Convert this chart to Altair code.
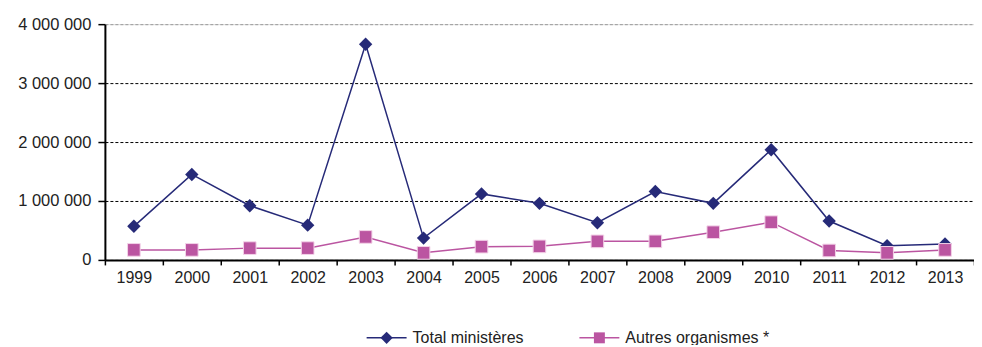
import altair as alt
import pandas as pd

years = [str(y) for y in range(1999, 2014)]
total_ministeres = [570000, 1450000, 920000, 590000, 3660000, 370000, 1120000, 960000,
                    630000, 1160000, 960000, 1870000, 660000, 240000, 270000]
autres_organismes = [170000, 170000, 200000, 200000, 390000, 120000, 225000, 230000,
                     315000, 315000, 470000, 640000, 160000, 120000, 170000]
series_names = ["Total ministères", "Autres organismes *"]
series_colors = ["#262a78", "#bb55a1"]
series_shapes = ["diamond", "square"]
y_ticks = [0, 1000000, 2000000, 3000000, 4000000]

rows = []
for name, vals in zip(series_names, [total_ministeres, autres_organismes]):
    for yr, v in zip(years, vals):
        rows.append({"year": yr, "value": v, "series": name})
df = pd.DataFrame(rows)

xenc = alt.X("year:O", scale=alt.Scale(type="band", paddingInner=0, paddingOuter=0),
             axis=alt.Axis(title=None, tickBand="extent", labelAngle=0, domainColor="black",
                           domainWidth=2, tickColor="black", tickWidth=1.5, tickSize=5,
                           labelFontSize=16, labelColor="#222", labelPadding=5,
                           labelFont="Liberation Sans", grid=False))
yenc = alt.Y("value:Q", scale=alt.Scale(domain=[0, 4000000], nice=False),
             axis=alt.Axis(title=None, values=y_ticks,
                           labelExpr="replace(replace(format(datum.value, ','), ',', ' '), ',', ' ')",
                           domainColor="black", domainWidth=2, tickColor="black", tickWidth=1.5,
                           tickSize=7, labelFontSize=16.5, labelColor="#222", labelPadding=7,
                           labelFont="Liberation Sans",
                           grid=True,
                           gridColor={"condition": {"test": "datum.value === 4000000", "value": "#999"}, "value": "black"},
                           gridDash=[3, 2], gridWidth=1))

lines = alt.Chart(df).mark_line(strokeWidth=1.5).encode(
    x=xenc, y=yenc,
    color=alt.Color("series:N", scale=alt.Scale(domain=series_names, range=series_colors),
                    sort=series_names, legend=None)
)

diamonds = alt.Chart(df[df.series == series_names[0]]).mark_point(
    shape="diamond", filled=True, size=180, opacity=1, color=series_colors[0]
).encode(x=xenc, y=yenc)

squares = alt.Chart(df[df.series == series_names[1]]).mark_point(
    shape="square", filled=True, size=160, opacity=1, color=series_colors[1],
    stroke="#f3d3e8", strokeWidth=1
).encode(x=xenc, y=yenc)

# Manual legend below the axis (positions relative to plot area)
legend_y = 314
legend_starts = [262, 475]
legend_layers = []
for name, col, shp, x0 in zip(series_names, series_colors, series_shapes, legend_starts):
    ldf = pd.DataFrame({"label": [name]})
    base = alt.Chart(ldf)
    legend_layers.append(base.mark_rule(color=col, strokeWidth=1.5).encode(
        x=alt.value(x0), x2=alt.value(x0 + 40), y=alt.value(legend_y)))
    legend_layers.append(base.mark_point(shape=shp, filled=True, opacity=1, color=col,
                                         size=150 if shp == "diamond" else 120).encode(
        x=alt.value(x0 + 20), y=alt.value(legend_y)))
    legend_layers.append(base.mark_text(align="left", baseline="middle", fontSize=16,
                                        font="Liberation Sans", color="#222").encode(
        x=alt.value(x0 + 46), y=alt.value(legend_y), text="label:N"))

chart = alt.layer(lines, diamonds, squares, *legend_layers).properties(
    width=870, height=236,
    autosize=alt.AutoSizeParams(type="none"),
    padding={"left": 97, "top": 16, "right": 0, "bottom": 85}
).configure_view(stroke=None).configure(background="white")

chart.save("out.html", embed_options={"renderer": "svg", "actions": False})
